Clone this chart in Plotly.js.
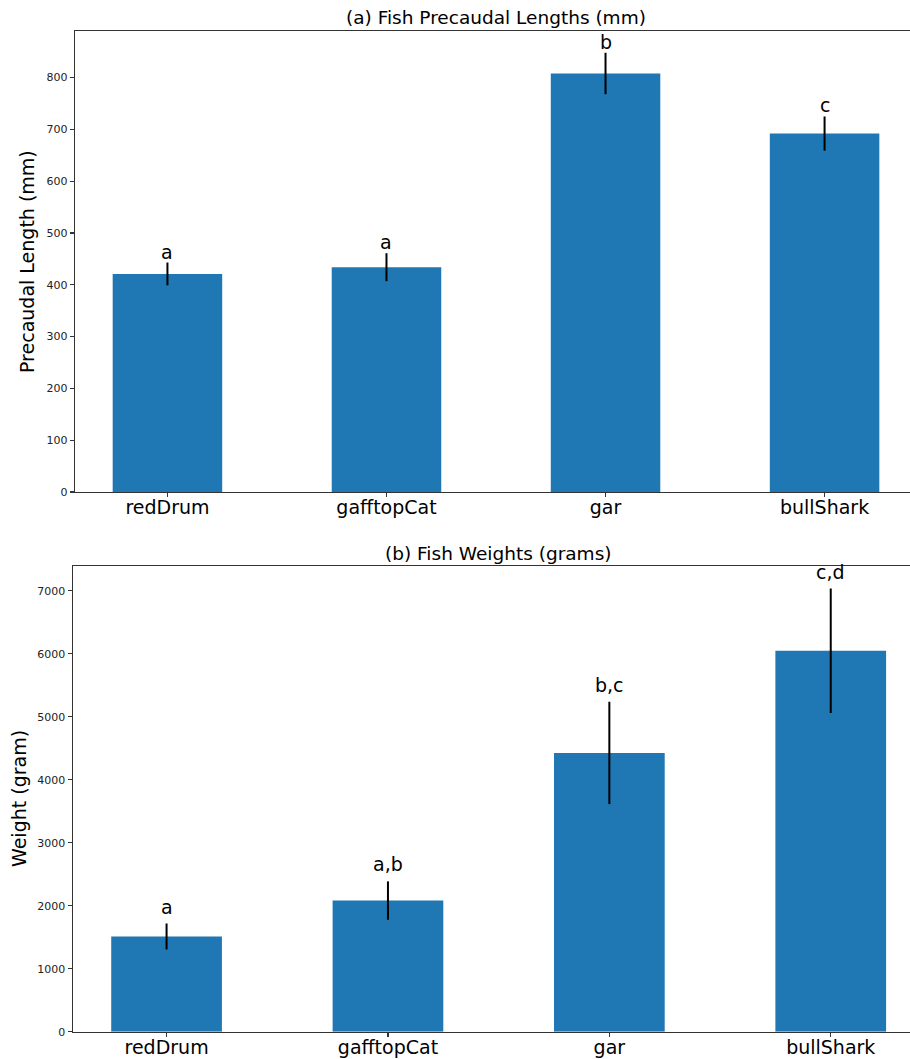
<!DOCTYPE html>
<html>
<head>
<meta charset="utf-8">
<script src="https://cdn.plot.ly/plotly-3.0.1.min.js"></script>
<style>html,body{margin:0;padding:0;background:#fff;}#chart{width:910px;height:1059px;}</style>
</head>
<body>
<div id="chart"></div>
<script>
const categories = ["redDrum", "gafftopCat", "gar", "bullShark"];
const lengthMeans = [421, 434, 808, 692];
const lengthErrors = [22, 27, 40, 33];
const lengthLetters = ["a", "a", "b", "c"];
const weightMeans = [1512, 2082, 4427, 6050];
const weightErrors = [205, 305, 813, 988];
const weightLetters = ["a", "a,b", "b,c", "c,d"];

const FONT = "DejaVu Sans, Liberation Sans, sans-serif";
const W = 910, H = 1059;
const px = v => v / W;
const py = v => 1 - v / H;

const barColor = "#1f77b4";

const traces = [
  {
    type: "bar", x: categories, y: lengthMeans, width: 0.5,
    marker: {color: barColor},
    error_y: {type: "data", array: lengthErrors, visible: true, color: "#000", thickness: 2, width: 0},
    xaxis: "x", yaxis: "y", hoverinfo: "skip"
  },
  {
    type: "bar", x: categories, y: weightMeans, width: 0.5,
    marker: {color: barColor},
    error_y: {type: "data", array: weightErrors, visible: true, color: "#000", thickness: 2, width: 0},
    xaxis: "x2", yaxis: "y2", hoverinfo: "skip"
  }
];

const annotations = [];
categories.forEach((c, i) => {
  annotations.push({
    x: c, y: lengthMeans[i] + lengthErrors[i], xref: "x", yref: "y",
    text: lengthLetters[i], showarrow: false, yanchor: "bottom", yshift: -2,
    font: {family: FONT, size: 19, color: "#000"}
  });
  annotations.push({
    x: c, y: weightMeans[i] + weightErrors[i], xref: "x2", yref: "y2",
    text: weightLetters[i], showarrow: false, yanchor: "bottom", yshift: 4,
    font: {family: FONT, size: 19, color: "#000"}
  });
});
// subplot titles
annotations.push({xref: "paper", yref: "paper", x: px(496), y: py(18), text: "(a) Fish Precaudal Lengths (mm)",
  showarrow: false, xanchor: "center", yanchor: "middle", font: {family: FONT, size: 18.5, color: "#000"}});
annotations.push({xref: "paper", yref: "paper", x: px(498), y: py(553), text: "(b) Fish Weights (grams)",
  showarrow: false, xanchor: "center", yanchor: "middle", font: {family: FONT, size: 18.5, color: "#000"}});
// y axis titles
annotations.push({xref: "paper", yref: "paper", x: px(27), y: py(262), text: "Precaudal Length (mm)", textangle: -90,
  showarrow: false, xanchor: "center", yanchor: "middle", font: {family: FONT, size: 19, color: "#000"}});
annotations.push({xref: "paper", yref: "paper", x: px(19), y: py(799), text: "Weight (gram)", textangle: -90,
  showarrow: false, xanchor: "center", yanchor: "middle", font: {family: FONT, size: 19, color: "#000"}});

const axisCommon = {
  showgrid: false, zeroline: false, showline: true, linecolor: "#333", linewidth: 1.2,
  ticks: "outside", ticklen: 4, tickcolor: "#333", tickwidth: 1.2, automargin: false
};

const layout = {
  width: W, height: H,
  margin: {l: 0, r: 0, t: 0, b: 0},
  paper_bgcolor: "#fff", plot_bgcolor: "#fff",
  showlegend: false,
  font: {family: FONT, color: "#000"},
  xaxis: Object.assign({}, axisCommon, {
    domain: [px(75), 1], anchor: "y", type: "category", range: [-0.422, 3.39], mirror: true,
    ticklabelstandoff: -6,
    tickfont: {family: FONT, size: 19, color: "#000"}
  }),
  yaxis: Object.assign({}, axisCommon, {
    domain: [py(492), py(31)], anchor: "x", range: [0, 890], tickmode: "array",
    tickvals: [0, 100, 200, 300, 400, 500, 600, 700, 800],
    tickfont: {family: FONT, size: 11, color: "#222"}
  }),
  xaxis2: Object.assign({}, axisCommon, {
    domain: [px(72.7), 1], anchor: "y2", type: "category", range: [-0.424, 3.358], mirror: true,
    ticklabelstandoff: -6,
    tickfont: {family: FONT, size: 19, color: "#000"}
  }),
  yaxis2: Object.assign({}, axisCommon, {
    domain: [py(1031.7), py(565.7)], anchor: "x2", range: [0, 7400], tickmode: "array",
    tickvals: [0, 1000, 2000, 3000, 4000, 5000, 6000, 7000],
    tickfont: {family: FONT, size: 11, color: "#222"}
  }),
  annotations: annotations
};

Plotly.newPlot("chart", traces, layout, {displayModeBar: false, staticPlot: true});
</script>
</body>
</html>
